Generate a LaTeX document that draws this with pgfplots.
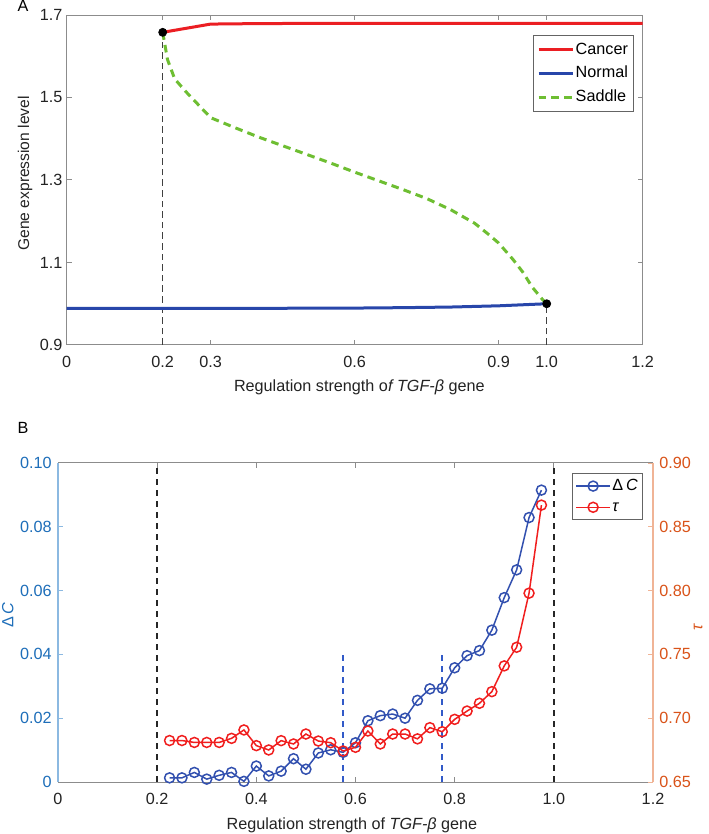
\documentclass[border=0pt]{standalone}
\usepackage{fontspec}
\setmainfont{Liberation Sans}
\usepackage{pgfplots}
\pgfplotsset{compat=1.18}
\definecolor{cancerred}{RGB}{235,30,35}
\definecolor{normalblue}{RGB}{40,70,170}
\definecolor{saddlegreen}{RGB}{110,190,50}
\definecolor{axgray}{RGB}{140,140,140}
\definecolor{legendgray}{RGB}{100,100,100}
\definecolor{ticktext}{RGB}{35,35,35}
\definecolor{dcblue}{RGB}{50,80,175}
\definecolor{taured}{RGB}{240,30,30}
\definecolor{mblue}{RGB}{30,110,185}
\definecolor{lblue}{RGB}{140,185,225}
\definecolor{morange}{RGB}{217,83,25}
\definecolor{lorange}{RGB}{240,180,150}
\definecolor{vblue}{RGB}{50,90,200}
\newcommand\fs{\fontsize{8.1bp}{9.7bp}\selectfont}
\newcommand\fsl{\fontsize{7.8bp}{9.3bp}\selectfont}
\pgfplotstableread{
x dc
0.225 0.0013
0.25 0.0013
0.275 0.0030
0.3 0.0009
0.325 0.0021
0.35 0.0030
0.375 0.0002
0.4 0.0050
0.425 0.0019
0.45 0.0034
0.475 0.0073
0.5 0.0040
0.525 0.0091
0.55 0.0101
0.575 0.0093
0.6 0.0123
0.625 0.0192
0.65 0.0208
0.675 0.0213
0.7 0.0200
0.725 0.0256
0.75 0.0292
0.775 0.0294
0.8 0.0358
0.825 0.0396
0.85 0.0412
0.875 0.0476
0.9 0.0578
0.925 0.0665
0.95 0.0829
0.975 0.0915
}\dctable
\pgfplotstableread{
x tau
0.225 0.6825
0.25 0.6825
0.275 0.6810
0.3 0.6810
0.325 0.6810
0.35 0.6842
0.375 0.6908
0.4 0.6785
0.425 0.6751
0.45 0.6824
0.475 0.6798
0.5 0.6876
0.525 0.6821
0.55 0.6808
0.575 0.6743
0.6 0.6772
0.625 0.6900
0.65 0.6798
0.675 0.6876
0.7 0.6876
0.725 0.6838
0.75 0.6926
0.775 0.6894
0.8 0.6991
0.825 0.7056
0.85 0.7117
0.875 0.7208
0.9 0.7410
0.925 0.7556
0.95 0.7980
0.975 0.8670
}\tautable
\begin{document}
\fs
\begin{tikzpicture}
\useasboundingbox (0,0) rectangle (354.5bp,417bp);
\node[font=\fs] at (11.5bp,414bp) {A};
\node[font=\fs] at (11.5bp,203bp) {B};
% ---------------- Panel A
\begin{axis}[
  at={(33.35bp,244.5bp)}, anchor=south west,
  width=288bp, height=165bp, scale only axis,
  xmin=0, xmax=1.2, ymin=0.9, ymax=1.7,
  xtick={0,0.2,0.3,0.6,0.9,1.0,1.2},
  xticklabels={0,0.2,0.3,0.6,0.9,1.0,1.2},
  ytick={0.9,1.1,1.3,1.5,1.7},
  yticklabels={0.9,1.1,1.3,1.5,1.7},
  tick align=inside, major tick length=2.5bp,
  axis line style={draw=axgray, line width=0.5bp},
  tick style={draw=axgray, line width=0.5bp},
  tick label style={font=\fs, text=ticktext},
  xticklabel style={yshift=-2.5bp},
  yticklabel style={xshift=0.7bp},
  xlabel={Regulation strength o\textit{f TGF-β} gene},
  xlabel style={at={(axis description cs:0.508,-0.127)}, anchor=center, font=\fs, text=ticktext},
  ylabel={Gene expression level},
  ylabel style={at={(axis description cs:-0.0724,0.52)}, anchor=center, font=\fsl, text=ticktext},
  legend style={at={(0.985,0.939)}, anchor=north east, draw=legendgray, line width=0.5bp,
    inner xsep=2bp, inner ysep=2.5bp, row sep=2.75bp,
    nodes={inner sep=0.8bp, text height=6bp, text depth=1.5bp, font=\fs, text=black},
    cells={anchor=west}},
]
\addplot[forget plot, draw=black!75, line width=0.5bp, dash pattern=on 3.3bp off 2bp] coordinates {(0.2,0.9) (0.2,1.658)};
\addplot[forget plot, draw=black!75, line width=0.5bp, dash pattern=on 3.3bp off 2bp] coordinates {(1.0,0.9) (1.0,1.0)};
\addplot[cancerred, line width=1.5bp] coordinates {
(0.2,1.658) (0.3,1.678) (0.4,1.6792) (0.5,1.6796) (0.6,1.6798) (0.8,1.68) (1.0,1.68) (1.2,1.68)};
\addlegendentry{Cancer}
\addplot[normalblue, line width=1.5bp] coordinates {
(0,0.9888) (0.2,0.9888) (0.4,0.9889) (0.6,0.9895) (0.7,0.9905) (0.8,0.992) (0.9,0.995) (0.95,0.9975) (1.0,1.0)};
\addlegendentry{Normal}
\addplot[saddlegreen, line width=1.5bp, dash pattern=on 3.8bp off 2.6bp] coordinates {
(0.2,1.658) (0.21,1.592) (0.225,1.545) (0.25,1.512) (0.3,1.451) (0.35,1.427) (0.4,1.404) (0.45,1.383) (0.5,1.362) (0.55,1.341) (0.6,1.319) (0.65,1.298) (0.7,1.277) (0.75,1.255) (0.8,1.228) (0.85,1.195) (0.88,1.167) (0.9,1.147) (0.93,1.107) (0.95,1.077) (0.97,1.04) (0.99,1.012) (1.0,1.0)};
\addlegendentry{Saddle}
\addplot[forget plot, only marks, mark=*, mark size=2bp, black] coordinates {(0.2,1.658) (1.0,1.0)};
\end{axis}
% ---------------- Panel B, left axis
\begin{axis}[
  at={(29bp,26bp)}, anchor=south west,
  width=297.5bp, height=159.5bp, scale only axis,
  xmin=0, xmax=1.2, ymin=0, ymax=0.1,
  axis x line*=box, axis y line*=left,
  xtick={0,0.2,0.4,0.6,0.8,1.0,1.2},
  xticklabels={0,0.2,0.4,0.6,0.8,1.0,1.2},
  ytick={0,0.02,0.04,0.06,0.08,0.1},
  yticklabels={0,0.02,0.04,0.06,0.08,0.10},
  tick align=inside, major tick length=2.5bp,
  x axis line style={draw=axgray, line width=0.5bp},
  y axis line style={draw=lblue, line width=0.6bp},
  xtick style={draw=axgray, line width=0.5bp},
  ytick style={draw=lblue, line width=0.5bp},
  tick label style={font=\fs},
  xticklabel style={yshift=-2.5bp, text=ticktext},
  yticklabel style={xshift=-0.3bp, text=mblue},
  xlabel={Regulation strength of \textit{TGF-β} gene},
  xlabel style={at={(axis description cs:0.494,-0.135)}, anchor=center, font=\fs, text=ticktext},
  ylabel={Δ\,\textit{C}},
  ylabel style={at={(axis description cs:-0.0845,0.523)}, anchor=center, font=\fs, text=mblue},
]
\addplot[black!85, line width=1bp, dash pattern=on 3bp off 2.5bp] coordinates {(0.2,0) (0.2,0.1)};
\addplot[black!85, line width=1bp, dash pattern=on 3bp off 2.5bp] coordinates {(1.0,0) (1.0,0.1)};
\addplot[vblue, line width=0.9bp, dash pattern=on 3bp off 2.5bp] coordinates {(0.575,0) (0.575,0.04)};
\addplot[vblue, line width=0.9bp, dash pattern=on 3bp off 2.5bp] coordinates {(0.775,0) (0.775,0.04)};
\addplot[dcblue, line width=0.75bp, mark=o, mark size=2.5bp, mark options={line width=0.75bp}] table[x=x, y=dc] {\dctable};
\end{axis}
% ---------------- Panel B, right axis
\begin{axis}[
  at={(29bp,26bp)}, anchor=south west,
  width=297.5bp, height=159.5bp, scale only axis,
  xmin=0, xmax=1.2, ymin=0.65, ymax=0.9,
  axis x line=none, axis y line*=right,
  xtick=\empty,
  ytick={0.65,0.7,0.75,0.8,0.85,0.9},
  yticklabels={0.65,0.70,0.75,0.80,0.85,0.90},
  tick align=inside, major tick length=2.5bp,
  y axis line style={draw=lorange, line width=0.6bp},
  ytick style={draw=lorange, line width=0.5bp},
  tick label style={font=\fs},
  yticklabel style={xshift=0.3bp, text=morange},
  ylabel={\textit{τ}},
  ylabel style={at={(axis description cs:1.076,0.486)}, anchor=center, font=\fs, text=morange},
  legend style={at={(0.983,0.969)}, anchor=north east, draw=legendgray, line width=0.5bp,
    inner xsep=1.5bp, inner ysep=1.8bp, row sep=1.5bp,
    nodes={inner sep=0.8bp, text height=6bp, text depth=1.5bp, font=\fs, text=black},
    cells={anchor=west}},
]
\addlegendimage{dcblue, line width=0.75bp, mark=o, mark size=2.5bp, mark options={line width=0.75bp}}
\addlegendentry{Δ\,\textit{C}}
\addplot[taured, line width=0.75bp, mark=o, mark size=2.5bp, mark options={line width=0.75bp}] table[x=x, y=tau] {\tautable};
\addlegendentry{\textit{τ}}
\end{axis}
\end{tikzpicture}
\end{document}
